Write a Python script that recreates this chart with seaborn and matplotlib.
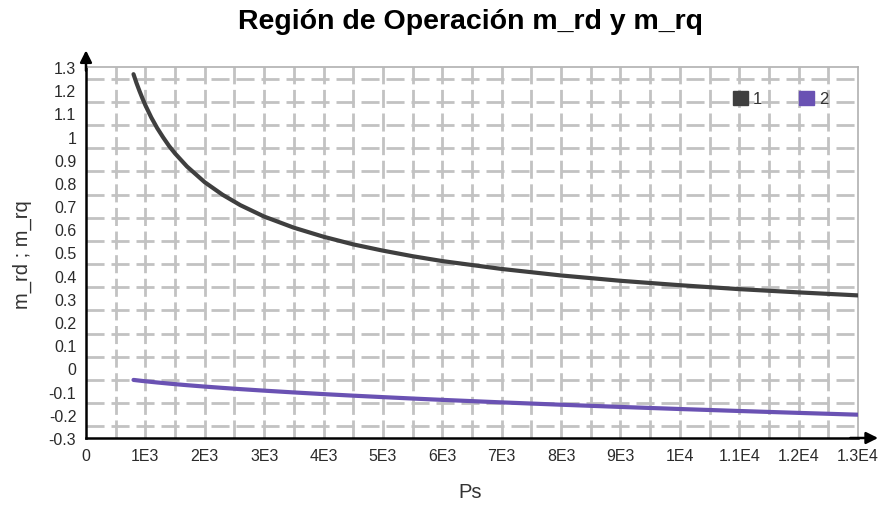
import numpy as np
import pandas as pd
import matplotlib
matplotlib.use("Agg")
import matplotlib.pyplot as plt
from matplotlib.patches import Patch
import seaborn as sns

# ---- data ----
ps = [800, 850, 900, 950, 1000, 1100, 1200, 1300, 1400, 1500, 1700, 2000,
      2300, 2600, 3000, 3500, 4000, 4500, 5000, 5500, 6000, 7000, 8000, 9000,
      10000, 11000, 12000, 13000]
m_rd = [1.269, 1.231, 1.197, 1.165, 1.135, 1.082, 1.036, 0.996, 0.959, 0.927,
        0.871, 0.803, 0.749, 0.704, 0.655, 0.607, 0.568, 0.535, 0.508, 0.484,
        0.463, 0.429, 0.401, 0.378, 0.359, 0.342, 0.328, 0.315]
m_rq = [-0.0495, -0.051, -0.0525, -0.054, -0.0553, -0.058, -0.0606, -0.063,
        -0.0655, -0.0678, -0.0722, -0.0783, -0.0839, -0.0892, -0.0958, -0.1035,
        -0.1107, -0.1174, -0.1237, -0.1298, -0.1356, -0.1464, -0.1565, -0.166,
        -0.175, -0.1835, -0.1917, -0.1995]
series_names = ["1", "2"]
colors = ["#3f3f3f", "#6a52b3"]
x_ticks = [0, 1000, 2000, 3000, 4000, 5000, 6000, 7000, 8000, 9000, 10000,
           11000, 12000, 13000]
x_labels = ["0", "1E3", "2E3", "3E3", "4E3", "5E3", "6E3", "7E3", "8E3", "9E3",
            "1E4", "1.1E4", "1.2E4", "1.3E4"]
y_ticks = [-0.3, -0.2, -0.1, 0, 0.1, 0.2, 0.3, 0.4, 0.5, 0.6, 0.7, 0.8, 0.9,
           1, 1.1, 1.2, 1.3]
y_labels = ["-0.3", "-0.2", "-0.1", "0", "0.1", "0.2", "0.3", "0.4", "0.5",
            "0.6", "0.7", "0.8", "0.9", "1", "1.1", "1.2", "1.3"]

df = pd.DataFrame({
    "Ps": ps + ps,
    "val": m_rd + m_rq,
    "serie": [series_names[0]] * len(ps) + [series_names[1]] * len(ps),
})

sns.set_style("white")
plt.rcParams["font.family"] = ["Liberation Sans", "DejaVu Sans"]

W, H = 880, 506
fig = plt.figure(figsize=(W / 100, H / 100), dpi=100)
ax = fig.add_axes([86 / W, 1 - 439 / H, (858 - 86) / W, (439 - 68) / H])

# grid (dashed, at half steps)
grid_kw = dict(color="#c2c2c2", lw=2.0, zorder=0)
for gx in np.arange(500, 13000, 500):
    ax.axvline(gx, ls=(0, (6.5, 2.0)), **grid_kw)
for gy in np.arange(-0.25, 1.3, 0.1):
    ax.axhline(gy, ls=(0, (6.5, 2.5)), **grid_kw)

sns.lineplot(data=df, x="Ps", y="val", hue="serie", palette=colors,
             linewidth=3, ax=ax, legend=False, zorder=3)

ax.set_xlim(0, 13000)
ax.set_ylim(-0.3, 1.3)
ax.set_xticks(x_ticks)
ax.set_xticklabels(x_labels)
ax.set_yticks(y_ticks)
ax.set_yticklabels(y_labels)
ax.tick_params(axis="both", labelsize=11.5, labelcolor="#2a2a2a", length=5,
               width=1.2, direction="out", pad=2, color="black")
ax.set_xlabel("")
ax.set_ylabel("")

for s in ["top", "right"]:
    ax.spines[s].set_color("#b0b0b0")
    ax.spines[s].set_linewidth(1.2)
for s in ["left", "bottom"]:
    ax.spines[s].set_color("black")
    ax.spines[s].set_linewidth(1.8)

# arrows on axes
ax.annotate("", xy=(0, 1.045), xytext=(0, 0.99), xycoords="axes fraction",
            arrowprops=dict(arrowstyle="-|>,head_width=0.35,head_length=0.7",
                            color="black", lw=1.8, shrinkA=0, shrinkB=0),
            annotation_clip=False)
ax.annotate("", xy=(1.026, 0), xytext=(0.99, 0), xycoords="axes fraction",
            arrowprops=dict(arrowstyle="-|>,head_width=0.35,head_length=0.7",
                            color="black", lw=1.8, shrinkA=0, shrinkB=0),
            annotation_clip=False)

fig.text(470 / W, 1 - 493 / H, "Ps", ha="center", va="center",
         fontsize=14.5, color="#333333")
fig.text(22 / W, 1 - 255 / H, "m_rd ; m_rq", ha="center", va="center",
         rotation=90, fontsize=14.5, color="#333333")

fig.text(470 / W, 1 - 22 / H, "Región de Operación m_rd y m_rq",
         ha="center", va="center", fontsize=20.5, fontweight="bold",
         color="black")

handles = [Patch(facecolor=c, edgecolor=c) for c in colors]
leg = ax.legend(handles, series_names, ncol=2, frameon=False,
                loc="center", bbox_to_anchor=(0.9, 0.915),
                handlelength=0.9, handleheight=0.9, handletextpad=0.3,
                columnspacing=2.2, fontsize=12)
for t in leg.get_texts():
    t.set_color("#333333")

fig.savefig("out.png", dpi=100)
